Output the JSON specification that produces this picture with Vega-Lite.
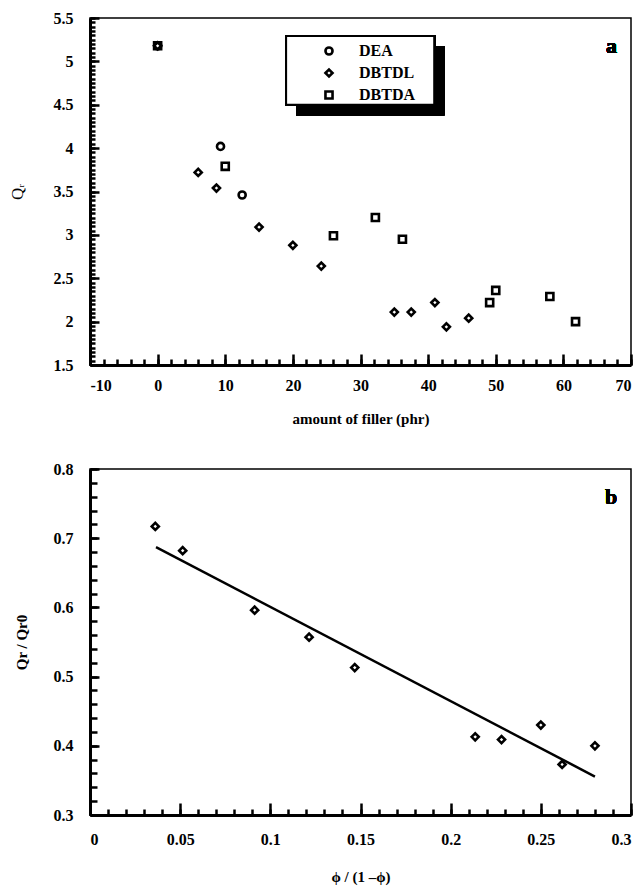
{
  "$schema": "https://vega.github.io/schema/vega-lite/v6.json",
  "padding": {"left": 7, "top": 9, "right": 5, "bottom": 2},
  "spacing": 33,
  "background": "white",
  "config": {
    "font": "Liberation Serif",
    "view": {"stroke": "black", "strokeWidth": 1.5},
    "axis": {
      "domainColor": "black", "domainWidth": 3, "tickColor": "black", "tickWidth": 2.5,
      "grid": false, "labelFont": "Liberation Serif", "labelFontSize": 16, "labelFontWeight": "bold", "labelColor": "black",
      "titleFont": "Liberation Serif", "titleFontSize": 15, "titleFontWeight": "bold", "titleColor": "black"
    },
    "legend": {
      "padding": 8,
      "labelFont": "Liberation Serif", "labelFontSize": 16, "labelFontWeight": "bold", "labelColor": "black",
      "symbolStrokeColor": "black", "symbolStrokeWidth": 2.6, "symbolSize": 50, "symbolOffset": 27, "labelOffset": 22, "rowPadding": 4
    }
  },
  "vconcat": [
    {
      "width": 541, "height": 347,
      "data": {"values": [
        {"amount": 0, "Qr": 5.18, "filler": "DEA"},
        {"amount": 9.3, "Qr": 4.02, "filler": "DEA"},
        {"amount": 12.5, "Qr": 3.46, "filler": "DEA"},
        {"amount": 0, "Qr": 5.18, "filler": "DBTDL"},
        {"amount": 6, "Qr": 3.72, "filler": "DBTDL"},
        {"amount": 8.7, "Qr": 3.54, "filler": "DBTDL"},
        {"amount": 15, "Qr": 3.09, "filler": "DBTDL"},
        {"amount": 20, "Qr": 2.88, "filler": "DBTDL"},
        {"amount": 24.2, "Qr": 2.64, "filler": "DBTDL"},
        {"amount": 35, "Qr": 2.11, "filler": "DBTDL"},
        {"amount": 37.5, "Qr": 2.11, "filler": "DBTDL"},
        {"amount": 41, "Qr": 2.22, "filler": "DBTDL"},
        {"amount": 42.7, "Qr": 1.94, "filler": "DBTDL"},
        {"amount": 46, "Qr": 2.04, "filler": "DBTDL"},
        {"amount": 0, "Qr": 5.18, "filler": "DBTDA"},
        {"amount": 10, "Qr": 3.79, "filler": "DBTDA"},
        {"amount": 26, "Qr": 2.99, "filler": "DBTDA"},
        {"amount": 32.2, "Qr": 3.2, "filler": "DBTDA"},
        {"amount": 36.2, "Qr": 2.95, "filler": "DBTDA"},
        {"amount": 49.1, "Qr": 2.22, "filler": "DBTDA"},
        {"amount": 50, "Qr": 2.36, "filler": "DBTDA"},
        {"amount": 58, "Qr": 2.29, "filler": "DBTDA"},
        {"amount": 61.8, "Qr": 2.0, "filler": "DBTDA"}
      ]},
      "resolve": {"axis": {"x": "independent", "y": "independent"}},
      "layer": [
        {
          "mark": {"type": "rect", "color": "black"},
          "encoding": {
            "x": {"datum": 20.5, "type": "quantitative", "scale": {"domain": [-10, 70], "nice": false, "zero": false},
              "axis": {"orient": "bottom", "tickCount": 40, "tickSize": -6, "labels": false, "domain": false, "title": null}},
            "x2": {"datum": 42.4},
            "y": {"datum": 5.177, "type": "quantitative", "scale": {"domain": [1.5, 5.5], "nice": false, "zero": false},
              "axis": {"orient": "left", "tickCount": 80, "tickSize": -5, "labels": false, "domain": false, "title": null}},
            "y2": {"datum": 4.38}
          }
        },
        {
          "mark": {"type": "rect", "fill": "white", "stroke": "black", "strokeWidth": 2},
          "encoding": {
            "x": {"datum": 19.0, "type": "quantitative", "axis": null},
            "x2": {"datum": 40.9},
            "y": {"datum": 5.293, "type": "quantitative", "axis": null},
            "y2": {"datum": 4.5}
          }
        },
        {
          "mark": {"type": "point", "filled": false, "stroke": "black", "strokeWidth": 2.6, "size": 50, "opacity": 1},
          "encoding": {
            "x": {"field": "amount", "type": "quantitative", "scale": {"domain": [-10, 70], "nice": false, "zero": false},
              "axis": {"orient": "bottom", "values": [-10, 0, 10, 20, 30, 40, 50, 60, 70], "tickSize": -11, "labelPadding": 23,
                "labelExpr": "toString(datum.value)", "title": "amount of filler (phr)", "titlePadding": 18}},
            "y": {"field": "Qr", "type": "quantitative", "scale": {"domain": [1.5, 5.5], "nice": false, "zero": false},
              "axis": {"orient": "left", "values": [1.5, 2, 2.5, 3, 3.5, 4, 4.5, 5, 5.5], "tickSize": -9, "labelPadding": 26,
                "labelExpr": "toString(datum.value)", "title": "Qᵣ", "titleFontSize": 17, "titleFontWeight": "normal", "titlePadding": 27}},
            "shape": {"field": "filler", "type": "nominal",
              "scale": {"domain": ["DEA", "DBTDL", "DBTDA"], "range": ["circle", "diamond", "square"]},
              "legend": {"orient": "none", "legendX": 196, "legendY": 17, "title": null}}
          }
        },
        {
          "mark": {"type": "text", "fontSize": 22, "fontWeight": "bold", "font": "Liberation Serif", "color": "black"},
          "encoding": {
            "x": {"datum": 67.1, "type": "quantitative", "axis": null},
            "y": {"datum": 5.18, "type": "quantitative", "axis": null},
            "text": {"value": "a"}
          }
        }
      ]
    },
    {
      "width": 541, "height": 346,
      "data": {"values": [
        {"phi": 0.0362, "ratio": 0.717},
        {"phi": 0.0514, "ratio": 0.682},
        {"phi": 0.0913, "ratio": 0.596},
        {"phi": 0.1215, "ratio": 0.557},
        {"phi": 0.1468, "ratio": 0.513},
        {"phi": 0.2136, "ratio": 0.413},
        {"phi": 0.2282, "ratio": 0.409},
        {"phi": 0.25, "ratio": 0.43},
        {"phi": 0.2618, "ratio": 0.373},
        {"phi": 0.28, "ratio": 0.4}
      ]},
      "resolve": {"axis": {"x": "independent", "y": "independent"}},
      "layer": [
        {
          "data": {"values": [{"phi": 0.0366, "fit": 0.687}, {"phi": 0.28, "fit": 0.3556}]},
          "mark": {"type": "line", "color": "black", "strokeWidth": 2.5},
          "encoding": {
            "x": {"field": "phi", "type": "quantitative", "scale": {"domain": [0, 0.3], "nice": false, "zero": false},
              "axis": {"orient": "bottom", "tickCount": 30, "tickSize": -6, "labels": false, "domain": false, "title": null}},
            "y": {"field": "fit", "type": "quantitative", "scale": {"domain": [0.3, 0.8], "nice": false, "zero": false},
              "axis": {"orient": "left", "tickCount": 25, "tickSize": -7, "labels": false, "domain": false, "title": null}}
          }
        },
        {
          "mark": {"type": "point", "shape": "diamond", "filled": false, "stroke": "black", "strokeWidth": 2.6, "size": 50, "opacity": 1},
          "encoding": {
            "x": {"field": "phi", "type": "quantitative", "scale": {"domain": [0, 0.3], "nice": false, "zero": false},
              "axis": {"orient": "bottom", "values": [0, 0.05, 0.1, 0.15, 0.2, 0.25, 0.3], "tickSize": -12, "labelPadding": 28,
                "labelExpr": "toString(datum.value)", "title": "ϕ / (1 –ϕ)", "titlePadding": 22}},
            "y": {"field": "ratio", "type": "quantitative", "scale": {"domain": [0.3, 0.8], "nice": false, "zero": false},
              "axis": {"orient": "left", "values": [0.3, 0.4, 0.5, 0.6, 0.7, 0.8], "tickSize": -9, "labelPadding": 26,
                "labelExpr": "toString(datum.value)", "title": "Qr / Qr0", "titlePadding": 24}}
          }
        },
        {
          "mark": {"type": "text", "fontSize": 22, "fontWeight": "bold", "font": "Liberation Serif", "color": "black"},
          "encoding": {
            "x": {"datum": 0.289, "type": "quantitative", "axis": null},
            "y": {"datum": 0.76, "type": "quantitative", "axis": null},
            "text": {"value": "b"}
          }
        }
      ]
    }
  ]
}
